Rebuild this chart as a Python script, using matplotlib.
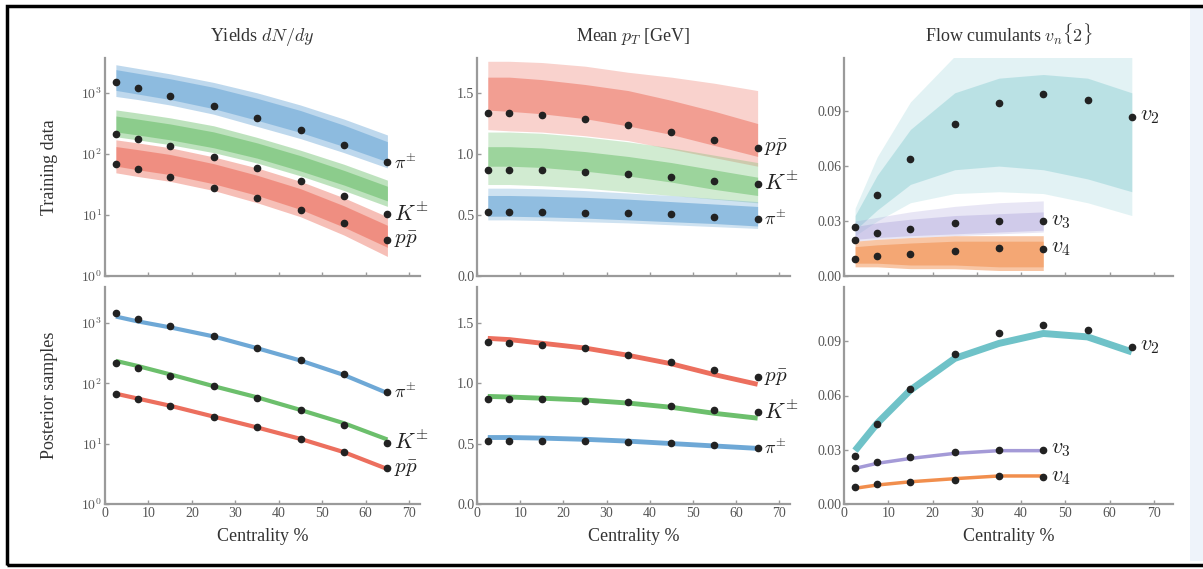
import numpy as np
import matplotlib
matplotlib.use("Agg")
import matplotlib.pyplot as plt
from matplotlib.patches import Rectangle

plt.rcParams['font.family'] = ['Liberation Serif', 'DejaVu Serif']
plt.rcParams['mathtext.fontset'] = 'cm'

# ---------------- data ----------------
cent = [2.5, 7.5, 15, 25, 35, 45, 55, 65]
cent_flow = [2.5, 7.5, 15, 25, 35, 45]

# measured points
pi_yield = [1475, 1195, 893, 605, 389, 245, 141, 73]
k_yield = [215, 178, 135, 90, 58, 36, 20.5, 10.3]
p_yield = [68, 56, 41.5, 28, 19, 12.2, 7.3, 3.9]

p_mpt = [1.34, 1.335, 1.317, 1.287, 1.235, 1.178, 1.112, 1.047]
k_mpt = [0.87, 0.87, 0.865, 0.855, 0.84, 0.81, 0.78, 0.757]
pi_mpt = [0.525, 0.525, 0.522, 0.52, 0.514, 0.506, 0.484, 0.467]

v2 = [0.0267, 0.044, 0.0636, 0.083, 0.0947, 0.0991, 0.0961, 0.087]
v3 = [0.0199, 0.0234, 0.0259, 0.0288, 0.0299, 0.0299]
v4 = [0.0093, 0.0108, 0.0121, 0.0135, 0.0154, 0.0148]

# training-data envelopes (log10 for yields)
pi_y_hi = [3.46, 3.40, 3.31, 3.17, 3.00, 2.80, 2.57, 2.31]
pi_y_lo = [2.94, 2.89, 2.80, 2.65, 2.45, 2.25, 2.02, 1.77]
pi_y_chi = [3.38, 3.32, 3.23, 3.09, 2.91, 2.71, 2.47, 2.20]
pi_y_clo = [3.04, 2.98, 2.89, 2.74, 2.55, 2.35, 2.12, 1.87]
k_y_hi = [2.72, 2.67, 2.59, 2.46, 2.27, 2.06, 1.83, 1.57]
k_y_lo = [2.28, 2.23, 2.15, 2.02, 1.85, 1.64, 1.40, 1.14]
k_y_chi = [2.62, 2.57, 2.49, 2.36, 2.18, 1.97, 1.73, 1.47]
k_y_clo = [2.36, 2.31, 2.23, 2.10, 1.93, 1.72, 1.49, 1.23]
p_y_hi = [2.23, 2.18, 2.10, 1.95, 1.77, 1.55, 1.28, 0.97]
p_y_lo = [1.69, 1.63, 1.55, 1.40, 1.20, 0.97, 0.67, 0.32]
p_y_chi = [2.12, 2.07, 1.99, 1.84, 1.65, 1.43, 1.15, 0.83]
p_y_clo = [1.80, 1.74, 1.66, 1.51, 1.32, 1.09, 0.80, 0.47]

p_m_hi = [1.76, 1.76, 1.75, 1.72, 1.67, 1.63, 1.58, 1.52]
p_m_lo = [1.20, 1.19, 1.18, 1.15, 1.11, 1.04, 0.97, 0.90]
p_m_chi = [1.63, 1.63, 1.61, 1.57, 1.52, 1.44, 1.35, 1.25]
p_m_clo = [1.36, 1.35, 1.33, 1.29, 1.23, 1.16, 1.07, 0.98]
k_m_hi = [1.18, 1.18, 1.17, 1.14, 1.10, 1.05, 0.99, 0.93]
k_m_lo = [0.75, 0.75, 0.74, 0.72, 0.69, 0.66, 0.63, 0.60]
k_m_chi = [1.06, 1.06, 1.05, 1.02, 0.98, 0.93, 0.87, 0.81]
k_m_clo = [0.90, 0.90, 0.89, 0.86, 0.82, 0.77, 0.71, 0.66]
pi_m_hi = [0.72, 0.72, 0.715, 0.70, 0.68, 0.66, 0.635, 0.61]
pi_m_lo = [0.46, 0.46, 0.455, 0.445, 0.435, 0.42, 0.405, 0.39]
pi_m_chi = [0.66, 0.66, 0.655, 0.645, 0.63, 0.61, 0.59, 0.57]
pi_m_clo = [0.49, 0.49, 0.485, 0.475, 0.46, 0.445, 0.43, 0.41]

v2_hi = [0.037, 0.065, 0.095, 0.120, 0.125, 0.125, 0.125, 0.120]
v2_lo = [0.022, 0.030, 0.040, 0.045, 0.046, 0.045, 0.040, 0.033]
v2_chi = [0.033, 0.055, 0.080, 0.100, 0.108, 0.110, 0.108, 0.100]
v2_clo = [0.025, 0.036, 0.050, 0.058, 0.060, 0.058, 0.053, 0.046]
v3_hi = [0.030, 0.032, 0.035, 0.038, 0.040, 0.041]
v3_lo = [0.019, 0.020, 0.021, 0.022, 0.023, 0.024]
v3_chi = [0.027, 0.029, 0.031, 0.033, 0.034, 0.035]
v3_clo = [0.020, 0.021, 0.022, 0.023, 0.024, 0.025]
v4_hi = [0.019, 0.020, 0.021, 0.022, 0.022, 0.022]
v4_lo = [0.005, 0.005, 0.004, 0.004, 0.003, 0.003]
v4_chi = [0.016, 0.017, 0.018, 0.019, 0.019, 0.019]
v4_clo = [0.007, 0.007, 0.006, 0.006, 0.005, 0.005]

# posterior curves
pi_post = [10**3.11, 10**3.03, 10**2.93, 10**2.78, 10**2.585, 10**2.38, 10**2.14, 10**1.84]
k_post = [10**2.374, 10**2.29, 10**2.15, 10**1.955, 10**1.77, 10**1.56, 10**1.34, 10**1.07]
p_post = [10**1.83, 10**1.75, 10**1.63, 10**1.45, 10**1.27, 10**1.08, 10**0.86, 10**0.58]
p_mpt_post = [1.37, 1.36, 1.33, 1.29, 1.23, 1.16, 1.07, 0.99]
k_mpt_post = [0.89, 0.885, 0.875, 0.86, 0.835, 0.80, 0.75, 0.71]
pi_mpt_post = [0.55, 0.55, 0.545, 0.535, 0.52, 0.50, 0.48, 0.46]
v2_post = [0.0295, 0.0446, 0.063, 0.0805, 0.0888, 0.0943, 0.0924, 0.0841]
v3_post = [0.0197, 0.0225, 0.0252, 0.028, 0.0295, 0.0295]
v4_post = [0.0087, 0.0105, 0.0123, 0.014, 0.0155, 0.0155]

titles = ["Yields $dN/dy$", r"Mean $p_T$ [GeV]", r"Flow cumulants $v_n\{2\}$"]
row_labels = ["Training data", "Posterior samples"]
xlabel = "Centrality %"

BLUE = "#5e9fd2"
GREEN = "#5cb85c"
RED = "#ea5f4c"
TEAL = "#5fbcc2"
PURPLE = "#9a8fd3"
ORANGE = "#f08239"
AXC = "#9a9a9a"
TXC = "#555555"

fig = plt.figure(figsize=(12.03, 5.69), dpi=100)
W, H = 1203, 569

def add_ax(x0, x1, y0, y1):
    return fig.add_axes([x0 / W, 1 - y1 / H, (x1 - x0) / W, (y1 - y0) / H])

cols = [(105, 420, 72.5), (477, 790, 72.5), (844, 1173, 74.3)]
rows = [(58, 276), (287, 504)]
axes = [[add_ax(c[0], c[1], r[0], r[1]) for c in cols] for r in rows]

def style(ax, xmax, xlabels):
    ax.set_xlim(0, xmax)
    for s in ['top', 'right']:
        ax.spines[s].set_visible(False)
    for s in ['left', 'bottom']:
        ax.spines[s].set_color(AXC)
        ax.spines[s].set_linewidth(1.6)
    ax.set_xticks([0, 10, 20, 30, 40, 50, 60, 70])
    ax.tick_params(direction='in', length=3, width=1, color=AXC,
                   labelcolor=TXC, labelsize=10, pad=2)
    ax.minorticks_off()
    if not xlabels:
        ax.set_xticklabels([])
    ax.patch.set_alpha(0)

def band(ax, x, lo, hi, clo, chi, color, log=False, a_out=0.3, a_in=0.5):
    f = (lambda a: [10**v for v in a]) if log else (lambda a: a)
    ax.fill_between(x, f(lo), f(hi), color=color, alpha=a_out, lw=0)
    if clo is not None:
        ax.fill_between(x, f(clo), f(chi), color=color, alpha=a_in, lw=0)

def dots(ax, x, y):
    ax.plot(x, y, 'o', color='#222222', ms=4.5, zorder=5)

mathfs = 13
# ---- row 0: training ----
ax = axes[0][0]
ax.set_yscale('log')
band(ax, cent, pi_y_lo, pi_y_hi, pi_y_clo, pi_y_chi, BLUE, log=True, a_out=0.4, a_in=0.5)
band(ax, cent, k_y_lo, k_y_hi, k_y_clo, k_y_chi, GREEN, log=True, a_out=0.4, a_in=0.5)
band(ax, cent, p_y_lo, p_y_hi, p_y_clo, p_y_chi, RED, log=True, a_out=0.4, a_in=0.5)
for y in (pi_yield, k_yield, p_yield):
    dots(ax, cent, y)

ax = axes[1][0]
ax.set_yscale('log')
for y, c in ((pi_post, BLUE), (k_post, GREEN), (p_post, RED)):
    ax.plot(cent, y, color=c, lw=3, alpha=0.9, solid_capstyle='butt')
for y in (pi_yield, k_yield, p_yield):
    dots(ax, cent, y)

for r, top in ((0, 10**3.57), (1, 10**3.6)):
    ax = axes[r][0]
    ax.set_ylim(1, top)
    ax.set_yticks([1, 10, 100, 1000])
    ax.set_yticklabels(["$10^{0}$", "$10^{1}$", "$10^{2}$", "$10^{3}$"])
    ax.text(66.5, pi_yield[-1], r"$\pi^{\pm}$", fontsize=mathfs, va='center', color='#222222')
    ax.text(66.5, k_yield[-1], r"$K^{\pm}$", fontsize=mathfs + 3, va='center', color='#222222')
    ax.text(66.5, p_yield[-1], r"$p\bar{p}$", fontsize=mathfs + 2, va='center', color='#222222')

ax = axes[0][1]
band(ax, cent, p_m_lo, p_m_hi, p_m_clo, p_m_chi, RED, a_out=0.28, a_in=0.45)
band(ax, cent, k_m_lo, k_m_hi, k_m_clo, k_m_chi, GREEN, a_out=0.28, a_in=0.45)
band(ax, cent, pi_m_lo, pi_m_hi, pi_m_clo, pi_m_chi, BLUE, a_out=0.3, a_in=0.55)
for y in (p_mpt, k_mpt, pi_mpt):
    dots(ax, cent, y)

ax = axes[1][1]
for y, c in ((p_mpt_post, RED), (k_mpt_post, GREEN), (pi_mpt_post, BLUE)):
    ax.plot(cent, y, color=c, lw=3.5, alpha=0.9, solid_capstyle='butt')
for y in (p_mpt, k_mpt, pi_mpt):
    dots(ax, cent, y)

for r, top in ((0, 1.787), (1, 1.795)):
    ax = axes[r][1]
    ax.set_ylim(0, top)
    ax.set_yticks([0, 0.5, 1.0, 1.5])
    ax.set_yticklabels(["0.0", "0.5", "1.0", "1.5"])
    ax.text(66.5, p_mpt[-1], r"$p\bar{p}$", fontsize=mathfs + 2, va='center', color='#222222')
    ax.text(66.5, k_mpt[-1], r"$K^{\pm}$", fontsize=mathfs + 3, va='center', color='#222222')
    ax.text(66.5, pi_mpt[-1], r"$\pi^{\pm}$", fontsize=mathfs, va='center', color='#222222')

ax = axes[0][2]
band(ax, cent, v2_lo, v2_hi, v2_clo, v2_chi, TEAL, a_out=0.18, a_in=0.3)
band(ax, cent_flow, v3_lo, v3_hi, v3_clo, v3_chi, PURPLE, a_out=0.22, a_in=0.3)
band(ax, cent_flow, v4_lo, v4_hi, v4_clo, v4_chi, ORANGE, a_out=0.45, a_in=0.45)
dots(ax, cent, v2)
dots(ax, cent_flow, v3)
dots(ax, cent_flow, v4)

ax = axes[1][2]
ax.plot(cent, v2_post, color=TEAL, lw=5, alpha=0.9, solid_capstyle='butt')
ax.plot(cent_flow, v3_post, color=PURPLE, lw=2.5, alpha=0.9, solid_capstyle='butt')
ax.plot(cent_flow, v4_post, color=ORANGE, lw=2.5, alpha=0.9, solid_capstyle='butt')
dots(ax, cent, v2)
dots(ax, cent_flow, v3)
dots(ax, cent_flow, v4)

for r, top in ((0, 0.119), (1, 0.12)):
    ax = axes[r][2]
    ax.set_ylim(0, top)
    ax.set_yticks([0, 0.03, 0.06, 0.09])
    ax.set_yticklabels(["0.00", "0.03", "0.06", "0.09"])
    ax.text(66.8, v2[-1], r"$v_2$", fontsize=mathfs + 3, va='center', color='#222222')
    ax.text(46.8, v3[-1], r"$v_3$", fontsize=mathfs + 3, va='center', color='#222222')
    ax.text(46.8, v4[-1], r"$v_4$", fontsize=mathfs + 3, va='center', color='#222222')

for r in range(2):
    for c in range(3):
        style(axes[r][c], cols[c][2], r == 1)
        if r == 1:
            axes[r][c].set_xlabel(xlabel, fontsize=13, color='#333333', labelpad=6)

for c in range(3):
    axes[0][c].set_title(titles[c], fontsize=13, color='#333333', pad=12)

fig.text(50 / W, 1 - 167 / H, row_labels[0], rotation=90, fontsize=13,
         color='#333333', ha='center', va='center')
fig.text(50 / W, 1 - 395 / H, row_labels[1], rotation=90, fontsize=13,
         color='#333333', ha='center', va='center')

# frame and right strip
fig.patches.append(Rectangle((1190 / W, 8 / H), 13 / W, 555 / H, transform=fig.transFigure,
                             facecolor='#eef3fa', edgecolor='none', zorder=0))
fig.patches.append(Rectangle((7 / W, 4 / H), 1.2, 1 - 10 / H, transform=fig.transFigure,
                             facecolor='none', edgecolor='black', lw=2.5, zorder=10))

fig.savefig("out.png", dpi=100)
